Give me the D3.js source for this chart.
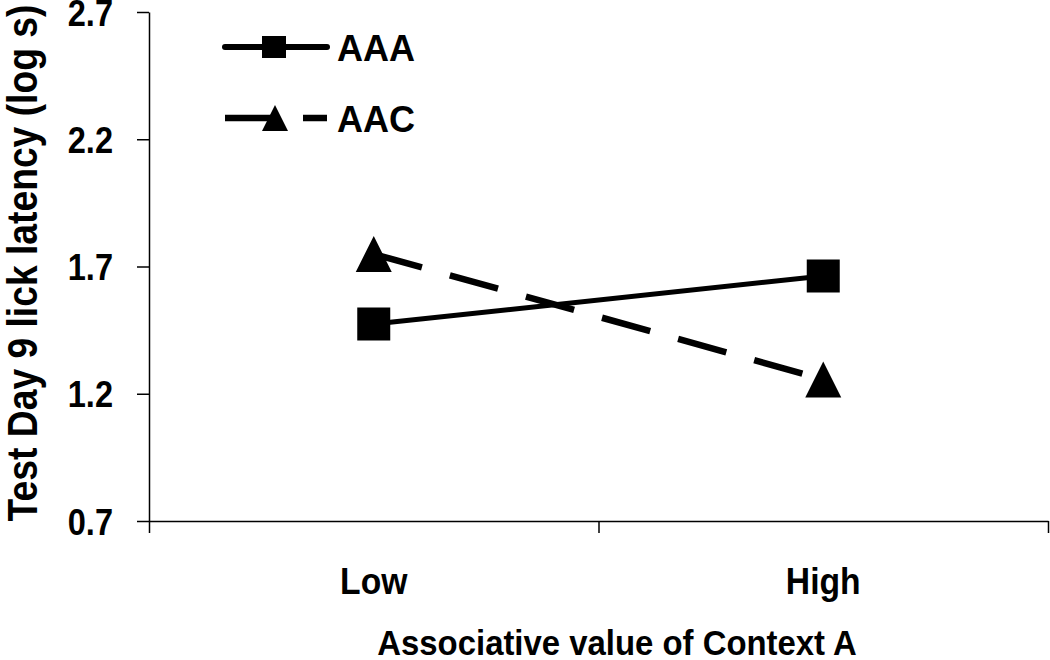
<!DOCTYPE html>
<html>
<head>
<meta charset="utf-8">
<script src="https://cdn.jsdelivr.net/npm/d3@7"></script>
<style>
  body { margin: 0; background: #fff; }
  svg { display: block; }
  text { font-family: "Liberation Sans", Arial, sans-serif; font-weight: bold; fill: #000; }
</style>
</head>
<body>
<svg id="chart" width="1050" height="660"></svg>
<script>
// data
const categories = ['Low', 'High'];
const seriesNames = ['AAA', 'AAC'];
const aaaValues = [1.474, 1.663];
const aacValues = [1.749, 1.256];
const yTicks = [0.7, 1.2, 1.7, 2.2, 2.7];

const svg = d3.select('#chart');

const LEFT = 149, RIGHT = 1048, TOP = 12, BOTTOM = 521;

const x = d3.scaleBand().domain(categories).range([LEFT, RIGHT]).padding(0);
const xEdge = d3.scaleLinear().domain([0, categories.length]).range([LEFT, RIGHT]);
const y = d3.scaleLinear().domain([0.7, 2.7]).range([BOTTOM, TOP]);

// squeezed text, the original fonts look condensed
const addText = (sel, str, px, py, size, sx, anchor, rotate) => {
    sel.append('text')
        .attr('transform', `translate(${px},${py})` + (rotate ? ` rotate(${rotate})` : '') + ` scale(${sx},1)`)
        .attr('text-anchor', anchor)
        .style('font-size', size + 'px')
        .text(str);
};

/* axes */
const yAxis = svg.append('g')
    .attr('transform', `translate(${LEFT},0)`)
    .call(d3.axisLeft(y).tickValues(yTicks).tickSize(12).tickSizeOuter(0).tickFormat(''));

const xAxis = svg.append('g')
    .attr('transform', `translate(0,${BOTTOM})`)
    .call(d3.axisBottom(xEdge).tickValues(d3.range(categories.length + 1)).tickSize(12).tickSizeOuter(0).tickFormat(''));

[yAxis, xAxis].forEach(a => {
    a.selectAll('path, line').attr('stroke', '#000').attr('stroke-width', 1.5);
});

yTicks.forEach(t => addText(svg, d3.format('.1f')(t), 113, y(t) + 13.5, 37, 0.88, 'end'));
categories.forEach(c => addText(svg, c, x(c) + x.bandwidth() / 2, 594, 37, 0.91, 'middle'));

addText(svg, 'Associative value of Context A', 617, 655, 36, 0.914, 'middle');
addText(svg, 'Test Day 9 lick latency (log s)', 37, 263, 42, 0.887, 'middle', -90);

/* series */
const cx = c => x(c) + x.bandwidth() / 2;
const line = d3.line().x((d, i) => cx(categories[i])).y(d => y(d));

svg.append('path')
    .datum(aaaValues)
    .attr('d', line)
    .attr('fill', 'none')
    .attr('stroke', '#000')
    .attr('stroke-width', 5);

svg.append('path')
    .datum(aacValues)
    .attr('d', line)
    .attr('fill', 'none')
    .attr('stroke', '#000')
    .attr('stroke-width', 6.5)
    .attr('stroke-dasharray', '50,29');

const square = d3.symbol().type(d3.symbolSquare).size(33 * 33);
const triangle = size => {
    // bounding box centred triangle, like the spreadsheet marker
    const h = size, w = size;
    return `M0,${-h / 2}L${w / 2},${h / 2}L${-w / 2},${h / 2}Z`;
};

svg.append('g').selectAll('path')
    .data(aaaValues)
    .enter()
    .append('path')
        .attr('transform', (d, i) => `translate(${cx(categories[i])},${y(d)})`)
        .attr('d', square)
        .attr('fill', '#000');

svg.append('g').selectAll('path')
    .data(aacValues)
    .enter()
    .append('path')
        .attr('transform', (d, i) => `translate(${cx(categories[i])},${y(d)})`)
        .attr('d', triangle(36))
        .attr('fill', '#000');

/* legend */
const legend = svg.append('g');
const legendY = [47, 118];

legend.append('line')
    .attr('x1', 225).attr('x2', 327)
    .attr('y1', legendY[0]).attr('y2', legendY[0])
    .attr('stroke', '#000').attr('stroke-width', 6).attr('stroke-linecap', 'round');
legend.append('rect')
    .attr('x', 262).attr('y', legendY[0] - 11)
    .attr('width', 24).attr('height', 22)
    .attr('fill', '#000');

legend.append('line')
    .attr('x1', 225).attr('x2', 327)
    .attr('y1', legendY[1]).attr('y2', legendY[1])
    .attr('stroke', '#000').attr('stroke-width', 6.5)
    .attr('stroke-dasharray', '50,28');
legend.append('path')
    .attr('transform', `translate(275,${legendY[1]})`)
    .attr('d', triangle(26))
    .attr('fill', '#000');

seriesNames.forEach((s, i) => addText(legend, s, 337, legendY[i] + 14, 36, 1, 'start'));
</script>
</body>
</html>
